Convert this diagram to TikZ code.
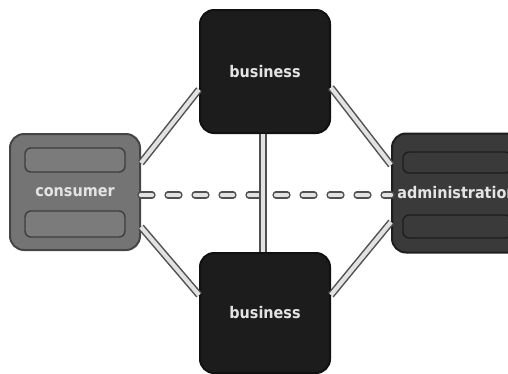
\documentclass[tikz,border=0pt]{standalone}
\usepackage{fontspec}
\newfontfamily\labelfont{DejaVu Sans Condensed}
\usetikzlibrary{calc}
\definecolor{consfill}{HTML}{747474}
\definecolor{consedge}{HTML}{454545}
\definecolor{admfill}{HTML}{3A3A3A}
\definecolor{admedge}{HTML}{1E1E1E}
\definecolor{busfill}{HTML}{1C1C1C}
\definecolor{busedge}{HTML}{111111}
\definecolor{connedge}{HTML}{505050}
\definecolor{conninner}{HTML}{E2E2E2}
\definecolor{labelcol}{HTML}{E4E4E4}
\tikzset{
  box/.style={draw, line width=2pt, rounded corners=14pt, minimum width=130pt,
    text=labelcol, font=\labelfont\bfseries\fontsize{16}{16}\selectfont, inner sep=0pt},
  bar/.style={line width=1.4pt, rounded corners=6pt},
  conn/.style={draw=connedge, line width=1.5pt, double=conninner, double distance=4.2pt},
  dashconn/.style={conn, dash pattern=on 11pt off 16pt, line cap=round},
}
\begin{document}
\begin{tikzpicture}[x=1pt,y=-1pt]
\useasboundingbox (0,0) rectangle (508,373);
\clip (0,0) rectangle (508,373);
\fill[white] (0,0) rectangle (508,373);

\node[box, fill=consfill, draw=consedge, minimum height=116pt,
  path picture={
    \draw[bar, draw=consedge!90!black, fill=consfill!95!white]
      ([shift={(-50,-44)}]path picture bounding box.center) rectangle ([shift={(50,-20)}]path picture bounding box.center);
    \draw[bar, draw=consedge!90!black, fill=consfill!95!white]
      ([shift={(-50,19)}]path picture bounding box.center) rectangle ([shift={(50,45)}]path picture bounding box.center);
  }] (consumer) at (75,192) {consumer};

\node[box, fill=admfill, draw=admedge, minimum height=119pt,
  path picture={
    \draw[bar, draw=admedge, fill=admfill]
      ([shift={(-54,-41)}]path picture bounding box.center) rectangle ([shift={(54,-20)}]path picture bounding box.center);
    \draw[bar, draw=admedge, fill=admfill]
      ([shift={(-54,22)}]path picture bounding box.center) rectangle ([shift={(54,45)}]path picture bounding box.center);
  }] (admin) at (457,193) {administration};

\node[box, fill=busfill, draw=busedge, minimum height=123pt] (topbus) at (265,71.5) {business};
\node[box, fill=busfill, draw=busedge, minimum height=120pt] (botbus) at (265,313) {business};

% connectors
\draw[conn] ([yshift=29pt]consumer.east) -- ([yshift=-18pt]topbus.west);
\draw[conn] ([yshift=-16pt]topbus.east) -- ([yshift=28pt]admin.west);
\draw[conn] ([yshift=-35pt]consumer.east) -- ([yshift=18pt]botbus.west);
\draw[conn] ([yshift=18pt]botbus.east) -- ([yshift=-29pt]admin.west);
\draw[dashconn] ([yshift=-3pt]consumer.east) -- ([yshift=-2pt]admin.west);
\draw[conn] ([xshift=-2pt]topbus.south) -- ([xshift=-2pt]botbus.north);
\end{tikzpicture}
\end{document}
